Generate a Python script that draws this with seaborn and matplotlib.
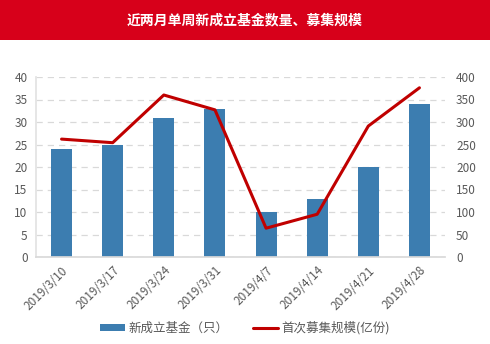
import matplotlib
matplotlib.use("Agg")
import matplotlib.pyplot as plt
import seaborn as sns
import pandas as pd
from matplotlib.patches import Rectangle
from matplotlib.lines import Line2D

# weekly data
dates = ["2019/3/10", "2019/3/17", "2019/3/24", "2019/3/31",
         "2019/4/7", "2019/4/14", "2019/4/21", "2019/4/28"]
new_funds = [24, 25, 31, 33, 10, 13, 20, 34]
raise_scale = [262, 254, 360, 327, 64, 95, 291, 376]

title = "近两月单周新成立基金数量、募集规模"
bar_label = "新成立基金（只）"
line_label = "首次募集规模(亿份)"

sns.set_theme(style="white")
plt.rcParams["font.family"] = ["Noto Sans CJK SC", "DejaVu Sans"]

bar_color = "#3C7DB0"
line_color = "#C00000"
text_gray = "#595959"

df = pd.DataFrame({"date": dates, "funds": new_funds, "scale": raise_scale})

fig = plt.figure(figsize=(4.9, 3.44), dpi=100)
fig.patch.set_facecolor("white")

# red header band
fig.add_artist(Rectangle((0, 1 - 40 / 344), 1, 40 / 344, transform=fig.transFigure,
                         facecolor="#D7001A", edgecolor="none", zorder=0))
fig.text(0.5, 1 - 20 / 344, title, color="white", fontsize=10, fontweight="bold",
         ha="center", va="center")

ax = fig.add_axes([36 / 490, 1 - 257 / 344, (445 - 36) / 490, (257 - 77) / 344])
sns.barplot(data=df, x="date", y="funds", ax=ax, color=bar_color, width=0.41,
            saturation=1, zorder=2, edgecolor="none")
ax.set_ylim(0, 40)
ax.set_yticks(range(0, 41, 5))
ax.set_xlim(-0.5, 7.5)
ax.set_xlabel("")
ax.set_ylabel("")
ax.yaxis.grid(True, linestyle=(0, (5, 4)), color="#D9D9D9", linewidth=0.9, zorder=0)
ax.set_axisbelow(True)
for s in ["top", "right"]:
    ax.spines[s].set_visible(False)
ax.spines["left"].set_color("#E3E3E3")
ax.spines["bottom"].set_color("#D9D9D9")
ax.tick_params(axis="y", colors=text_gray, labelsize=8.5, length=0, pad=6)
ax.tick_params(axis="x", colors=text_gray, labelsize=8.5, length=0, pad=5)
plt.setp(ax.get_xticklabels(), rotation=45, ha="right", rotation_mode="anchor")

ax2 = ax.twinx()
sns.pointplot(data=df, x="date", y="scale", ax=ax2, color=line_color,
              markersize=0, linewidth=2.2)
ax2.set_ylim(0, 400)
ax2.set_yticks(range(0, 401, 50))
ax2.set_xlim(-0.5, 7.5)
ax2.set_ylabel("")
ax2.set_xlabel("")
for s in ["top", "right", "left", "bottom"]:
    ax2.spines[s].set_visible(False)
ax2.tick_params(axis="y", colors=text_gray, labelsize=8.5, length=0, pad=8)

handles = [Rectangle((0, 0), 1, 1, facecolor=bar_color, edgecolor="none"),
           Line2D([0], [0], color=line_color, linewidth=2.2)]
fig.legend(handles, [bar_label, line_label], loc="center",
           bbox_to_anchor=(0.5, 1 - 328 / 344), ncol=2, frameon=False,
           fontsize=9, labelcolor=text_gray, handlelength=2.0, handleheight=0.45,
           columnspacing=1.9, handletextpad=0.3)

fig.savefig("out.png", dpi=100, facecolor="white")
